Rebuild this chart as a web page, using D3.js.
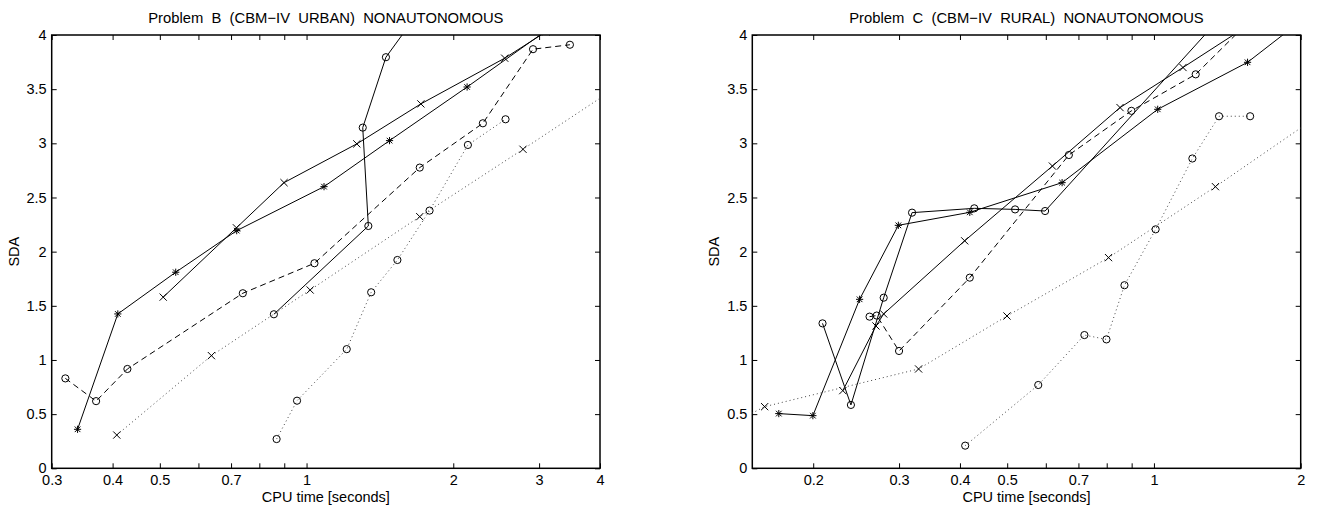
<!DOCTYPE html>
<html>
<head>
<meta charset="utf-8">
<script src="https://cdn.jsdelivr.net/npm/d3@7"></script>
<style>
body { margin: 0; background: #fff; }
svg { font-family: "Liberation Sans", Arial, Helvetica, sans-serif; }
</style>
</head>
<body>
<div id="chart"></div>
<script>

// y axis (both panels)
var yTicks = [0, 0.5, 1, 1.5, 2, 2.5, 3, 3.5, 4];

// x axis, problem B
var bTicks = [0.3, 0.4, 0.5, 0.6, 0.7, 0.8, 0.9, 1, 2, 3, 4];
var bLabels = ["0.3", "0.4", "0.5", "", "0.7", "", "", "1", "2", "3", "4"];

// x axis, problem C
var cTicks = [0.2, 0.3, 0.4, 0.5, 0.6, 0.7, 0.8, 0.9, 1, 2];
var cLabels = ["0.2", "0.3", "0.4", "0.5", "", "0.7", "", "", "1", "2"];

// problem B series [cpu, sda]
var bStarSolid = [[0.339,0.36],[0.41,1.425],[0.539,1.81],[0.719,2.194],[1.086,2.60],[1.48,3.025],[2.135,3.52],[3.1,4.04]];
var bCrossSolid = [[0.508,1.58],[0.718,2.22],[0.899,2.637],[1.268,2.995],[1.716,3.364],[2.55,3.786],[3.1,4.03]];
var bCircleSolid = [[0.857,1.422],[1.339,2.237],[1.304,3.145],[1.455,3.795],[1.63,4.1]];
var bCircleDashed = [[0.32,0.83],[0.37,0.62],[0.429,0.917],[0.74,1.616],[1.038,1.893],[1.707,2.776],[2.30,3.185],[2.915,3.869],[3.47,3.91]];
var bCrossDotted = [[0.408,0.307],[0.638,1.04],[1.017,1.646],[1.707,2.323],[2.78,2.945],[4.3,3.51]];
var bCircleDotted = [[0.868,0.27],[0.956,0.624],[1.209,1.10],[1.357,1.625],[1.536,1.923],[1.788,2.379],[2.143,2.985],[2.56,3.222]];

// problem C series [cpu, sda]
var cStarSolid = [[0.17,0.505],[0.1997,0.486],[0.249,1.56],[0.299,2.243],[0.419,2.363],[0.648,2.637],[1.018,3.314],[1.556,3.748],[1.95,4.09]];
var cCrossSolid = [[0.23,0.717],[0.269,1.314],[0.279,1.425],[0.409,2.10],[0.619,2.79],[0.852,3.33],[1.147,3.70],[1.55,4.08]];
var cCircleSolid = [[0.209,1.338],[0.239,0.585],[0.279,1.575],[0.319,2.36],[0.428,2.40],[0.519,2.39],[0.598,2.375],[1.35,4.13]];
var cCircleDashed = [[0.261,1.40],[0.27,1.41],[0.30,1.083],[0.419,1.76],[0.669,2.892],[0.899,3.30],[1.218,3.637],[1.5,4.04]];
var cCrossDotted = [[0.14,0.44],[0.159,0.569],[0.329,0.917],[0.4995,1.406],[0.807,1.945],[1.337,2.60],[2.3,3.33]];
var cCircleDotted = [[0.41,0.209],[0.579,0.769],[0.72,1.23],[0.799,1.19],[0.87,1.69],[1.008,2.206],[1.199,2.86],[1.36,3.25],[1.575,3.25]];

var panels = [
	{
		id: "b",
		title: "Problem  B  (CBM\u2212IV  URBAN)  NONAUTONOMOUS",
		left: 51.7, right: 600,
		domain: [0.3, 4],
		ticks: bTicks, labels: bLabels,
		series: [
			{data: bStarSolid, style: "solid", mark: "star"},
			{data: bCrossSolid, style: "solid", mark: "x"},
			{data: bCircleSolid, style: "solid", mark: "o"},
			{data: bCircleDashed, style: "dashed", mark: "o"},
			{data: bCrossDotted, style: "dotted", mark: "x"},
			{data: bCircleDotted, style: "dotted", mark: "o"}
		]
	},
	{
		id: "c",
		title: "Problem  C  (CBM\u2212IV  RURAL)  NONAUTONOMOUS",
		left: 752.3, right: 1300.7,
		domain: [0.15, 2],
		ticks: cTicks, labels: cLabels,
		series: [
			{data: cStarSolid, style: "solid", mark: "star"},
			{data: cCrossSolid, style: "solid", mark: "x"},
			{data: cCircleSolid, style: "solid", mark: "o"},
			{data: cCircleDashed, style: "dashed", mark: "o"},
			{data: cCrossDotted, style: "dotted", mark: "x"},
			{data: cCircleDotted, style: "dotted", mark: "o"}
		]
	}
];

var plotTop = 35, plotBottom = 468.3;

var svg = d3.select("#chart").append("svg")
	.attr("width", 1319).attr("height", 507);

svg.append("rect").attr("width", 1319).attr("height", 507).attr("fill", "#fff");

var dashes = {solid: null, dashed: "6,4", dotted: "1,3"};

panels.forEach(function(p) {

	var x = d3.scaleLog().domain(p.domain).range([p.left, p.right]);
	var y = d3.scaleLinear().domain([0, 4]).range([plotBottom, plotTop]);
	var w = p.right - p.left;

	svg.append("clipPath").attr("id", "clip-" + p.id)
		.append("rect")
		.attr("x", p.left).attr("y", plotTop)
		.attr("width", w).attr("height", plotBottom - plotTop);

	// axes
	var xb = svg.append("g").attr("transform", "translate(0," + plotBottom + ")")
		.call(d3.axisBottom(x).tickValues(p.ticks).tickSize(-5).tickPadding(6)
			.tickFormat(function(d, i) {return p.labels[i];}));
	var xt = svg.append("g").attr("transform", "translate(0," + plotTop + ")")
		.call(d3.axisTop(x).tickValues(p.ticks).tickSize(-5).tickFormat(""));
	var yl = svg.append("g").attr("transform", "translate(" + p.left + ",0)")
		.call(d3.axisLeft(y).tickValues(yTicks).tickSize(-5).tickPadding(5)
			.tickFormat(d3.format("~g")));
	var yr = svg.append("g").attr("transform", "translate(" + p.right + ",0)")
		.call(d3.axisRight(y).tickValues(yTicks).tickSize(-5).tickFormat(""));

	[xb, xt, yl, yr].forEach(function(g) {
		g.select(".domain").remove();
		g.attr("font-size", 14.5).attr("font-family", "Liberation Sans, Arial, sans-serif");
		g.selectAll(".tick line").attr("stroke", "#000").attr("stroke-width", 1);
		g.selectAll(".tick text").attr("fill", "#000");
	});

	svg.append("rect")
		.attr("x", p.left).attr("y", plotTop)
		.attr("width", w).attr("height", plotBottom - plotTop)
		.attr("fill", "none").attr("stroke", "#000").attr("stroke-width", 1.5);

	// series
	var plot = svg.append("g").attr("clip-path", "url(#clip-" + p.id + ")");
	var line = d3.line().x(function(d) {return x(d[0]);}).y(function(d) {return y(d[1]);});

	p.series.forEach(function(s) {
		plot.append("path")
			.datum(s.data)
			.attr("d", line)
			.attr("fill", "none")
			.attr("stroke", s.style == "dotted" ? "#444" : "#000")
			.attr("stroke-width", 1)
			.attr("stroke-dasharray", dashes[s.style]);

		plot.append("g").selectAll("path")
			.data(s.data)
			.enter()
			.append("path")
			.attr("transform", function(d) {return "translate(" + x(d[0]) + "," + y(d[1]) + ")";})
			.attr("fill", "none")
			.attr("stroke", "#000")
			.attr("stroke-width", 1)
			.attr("d", function() {
				var r = 3.6, q = 2.8;
				if (s.mark == "o") return "M" + r + ",0A" + r + "," + r + " 0 1,1 " + (-r) + ",0A" + r + "," + r + " 0 1,1 " + r + ",0Z";
				if (s.mark == "x") return "M" + (-r) + "," + (-r) + "L" + r + "," + r + "M" + (-r) + "," + r + "L" + r + "," + (-r);
				return "M" + (-r) + ",0L" + r + ",0M0," + (-r) + "L0," + r +
					"M" + (-q) + "," + (-q) + "L" + q + "," + q + "M" + (-q) + "," + q + "L" + q + "," + (-q);
			});
	});

	// texts
	svg.append("text")
		.attr("x", p.left + w / 2).attr("y", 23)
		.attr("text-anchor", "middle")
		.attr("font-size", 14.8)
		.style("white-space", "pre")
		.text(p.title);

	svg.append("text")
		.attr("x", p.left + w / 2).attr("y", 502)
		.attr("text-anchor", "middle")
		.attr("font-size", 14.5)
		.text("CPU time [seconds]");

	svg.append("text")
		.attr("transform", "translate(" + (p.left - 33) + "," + ((plotTop + plotBottom) / 2) + ") rotate(-90)")
		.attr("text-anchor", "middle")
		.attr("font-size", 14.5)
		.text("SDA");
});
</script>
</body>
</html>
